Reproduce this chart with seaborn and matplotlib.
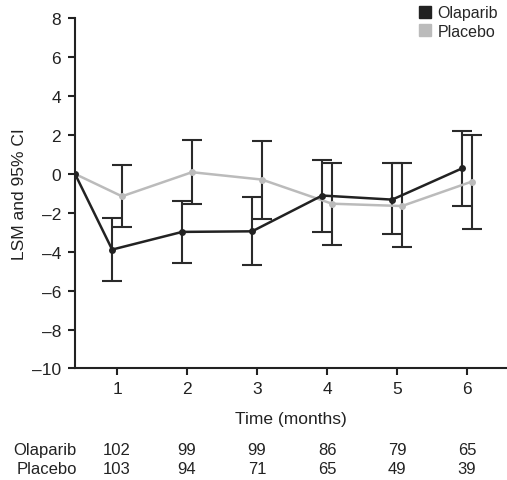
import matplotlib
matplotlib.use("Agg")
import matplotlib.pyplot as plt
import seaborn as sns
import pandas as pd
import numpy as np
from matplotlib.lines import Line2D

# ---- data ----
months = [1, 2, 3, 4, 5, 6]
baseline_x = 0.4
olaparib_lsm = [-3.89, -2.98, -2.95, -1.11, -1.32, 0.29]
olaparib_lo = [-5.49, -4.60, -4.68, -2.97, -3.10, -1.66]
olaparib_hi = [-2.28, -1.37, -1.20, 0.74, 0.55, 2.20]
placebo_lsm = [-1.15, 0.09, -0.29, -1.53, -1.65, -0.39]
placebo_lo = [-2.71, -1.54, -2.31, -3.63, -3.77, -2.85]
placebo_hi = [0.45, 1.77, 1.68, 0.55, 0.55, 2.02]
n_olaparib = [102, 99, 99, 86, 79, 65]
n_placebo = [103, 94, 71, 65, 49, 39]
groups = ["Olaparib", "Placebo"]
offsets = {"Olaparib": -0.07, "Placebo": 0.07}
colors = {"Olaparib": "#222222", "Placebo": "#bbbbbb"}

sns.set_style("ticks")
plt.rcParams['font.family'] = ['Liberation Sans', 'DejaVu Sans']

rows = []
for g, vals in zip(groups, [olaparib_lsm, placebo_lsm]):
    rows.append({"group": g, "time": baseline_x, "lsm": 0.0})
    for m, v in zip(months, vals):
        rows.append({"group": g, "time": m + offsets[g], "lsm": v})
df = pd.DataFrame(rows)

fig = plt.figure(figsize=(5.07, 4.81), dpi=100)
ax = fig.add_axes([0.148, 0.232, 0.852, 0.7277])

# error bars (dark for both)
for g, vals, lo, hi in [("Olaparib", olaparib_lsm, olaparib_lo, olaparib_hi),
                        ("Placebo", placebo_lsm, placebo_lo, placebo_hi)]:
    x = np.array(months) + offsets[g]
    v = np.array(vals)
    yerr = np.vstack([v - np.array(lo), np.array(hi) - v])
    ax.errorbar(x, v, yerr=yerr, fmt='none', ecolor='#2a2a2a', elinewidth=1.5,
                capsize=7, capthick=1.5, zorder=2)

sns.lineplot(data=df[df.group == "Placebo"], x="time", y="lsm", color=colors["Placebo"],
             marker='o', markersize=5, markeredgewidth=0, linewidth=1.8, ax=ax,
             legend=False, zorder=3)
sns.lineplot(data=df[df.group == "Olaparib"], x="time", y="lsm", color=colors["Olaparib"],
             marker='o', markersize=5, markeredgewidth=0, linewidth=1.8, ax=ax,
             legend=False, zorder=4)

ax.set_xlim(baseline_x, 6.57)
ax.set_ylim(-10, 8)
ax.set_xticks(months)
ax.set_yticks(range(-10, 9, 2))
ax.set_yticklabels([str(t).replace('-', '\u2013') for t in range(-10, 9, 2)])
ax.tick_params(axis='both', labelsize=12.5, colors='#222222', length=5, width=1.5, pad=4)
ax.tick_params(axis='y', pad=5)
for s in ['top', 'right']:
    ax.spines[s].set_visible(False)
for s in ['left', 'bottom']:
    ax.spines[s].set_linewidth(1.5)
    ax.spines[s].set_color('#222222')

ax.set_xlabel("Time (months)", fontsize=12.5, color='#222222')
ax.set_ylabel("LSM and 95% CI", fontsize=12.5, color='#222222')
ax.yaxis.set_label_coords(-0.112, 0.5)
ax.xaxis.set_label_coords(0.5, -0.122)

# numbers at risk
for label, ns, yy in [("Olaparib", n_olaparib, -0.233), ("Placebo", n_placebo, -0.285)]:
    ax.text(0.004, yy, label, transform=ax.transAxes, ha='right', va='center',
            fontsize=12, color='#222222')
    for m, n in zip(months, ns):
        ax.annotate(str(n), xy=(m, yy), xycoords=('data', 'axes fraction'),
                    ha='center', va='center', fontsize=12, color='#222222',
                    annotation_clip=False)

handles = [Line2D([0], [0], marker='s', linestyle='none', markersize=9,
                  markerfacecolor=colors[g], markeredgecolor=colors[g]) for g in groups]
fig.legend(handles, groups, loc='upper left', bbox_to_anchor=(0.8, 1.01),
           frameon=False, fontsize=11.5, handletextpad=0.3, labelspacing=0.2,
           handlelength=1.0, borderaxespad=0.3)

fig.savefig("out.png", dpi=100)
